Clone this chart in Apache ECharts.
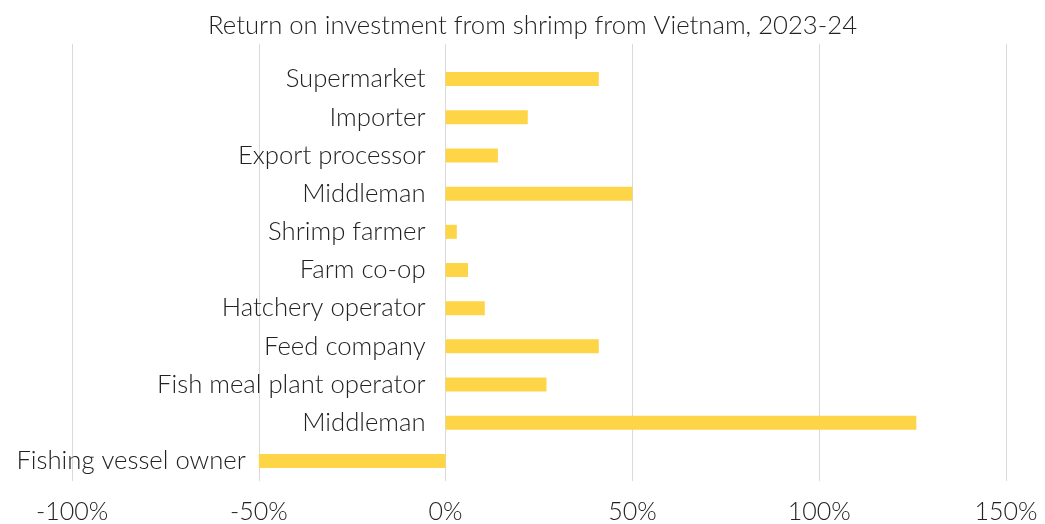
<!DOCTYPE html>
<html>
<head>
<meta charset="utf-8">
<script src="https://cdn.jsdelivr.net/npm/echarts@6/dist/echarts.min.js"></script>
<style>
html,body{margin:0;padding:0;background:#fff;}
#main{width:1045px;height:524px;}
</style>
</head>
<body>
<div id="main"></div>
<script>
var titleText = 'Return on investment from shrimp from Vietnam, 2023-24';
var categories = ['Supermarket','Importer','Export processor','Middleman','Shrimp farmer','Farm co-op','Hatchery operator','Feed company','Fish meal plant operator','Middleman','Fishing vessel owner'];
var roiValues = [41, 22, 14, 50, 3, 6, 10.5, 41, 27, 126, -50];
var xTicks = [-100, -50, 0, 50, 100, 150];

var FONT = 'Lato';
var FW = 300;
var GRID_LEFT = 72;
var LABEL_MARGIN = 20;
var chart = echarts.init(document.getElementById('main'));
var catIdx = categories.map(function(c, i){ return String(i); });
var negPad = 0;
var option = {
  animation: false,
  backgroundColor: '#ffffff',
  title: {
    text: titleText,
    left: 208,
    top: 13,
    padding: 0,
    textStyle: {fontFamily: FONT, fontSize: 25.7, fontWeight: FW, color: '#222'}
  },
  grid: [
    {left: GRID_LEFT, right: 39, top: 60, bottom: 44, outerBoundsMode: 'none', containLabel: false},
    {left: GRID_LEFT, right: 39, top: 44, bottom: 43, outerBoundsMode: 'none', containLabel: false}
  ],
  xAxis: [
    {gridIndex: 0, type: 'value', min: xTicks[0], max: xTicks[xTicks.length-1], interval: 50,
     axisLabel: {show: false}, splitLine: {show: false}, axisLine: {show: false}, axisTick: {show: false}},
    {gridIndex: 1, type: 'value', min: xTicks[0], max: xTicks[xTicks.length-1], interval: 50,
     axisLabel: {show: true, formatter: '{value}%', fontFamily: FONT, fontWeight: FW, fontSize: 25, color: '#222', margin: 18},
     splitLine: {show: true, lineStyle: {color: '#d9d9d9', width: 1}},
     axisLine: {show: false}, axisTick: {show: false}}
  ],
  yAxis: [
    {gridIndex: 0, type: 'category', data: catIdx, inverse: true, offset: 0,
     axisLine: {show: false, onZero: false}, axisTick: {show: false},
     axisLabel: {fontFamily: FONT, fontWeight: FW, fontSize: 25.7, color: '#222', margin: LABEL_MARGIN,
       formatter: function(v){
         var i = +v;
         return roiValues[i] < 0 ? '{neg|' + categories[i] + '}' : categories[i];
       },
       rich: {neg: {fontFamily: FONT, fontWeight: FW, fontSize: 25.7, color: '#222', padding: [0, 0, 0, 0]}}
     }},
    {gridIndex: 1, type: 'value', min: 0, max: 1, show: false}
  ],
  series: [{
    type: 'bar',
    xAxisIndex: 0, yAxisIndex: 0,
    data: roiValues,
    barWidth: 14,
    itemStyle: {color: '#FDD547'}
  }]
};
chart.setOption(option);
// place the category axis at the x = 0 position of the value axis
var zeroPx = chart.convertToPixel({xAxisIndex: 0}, 0);
// negative bars: move their label to the left of the bar end
var minNeg = Math.min.apply(null, roiValues.concat([0]));
var negEndPx = chart.convertToPixel({xAxisIndex: 0}, minNeg);
negPad = Math.max(0, zeroPx - negEndPx + 13 - LABEL_MARGIN);
chart.setOption({yAxis: [{offset: GRID_LEFT - zeroPx,
  axisLabel: {rich: {neg: {fontFamily: FONT, fontWeight: FW, fontSize: 25.7, color: '#222', padding: [0, negPad, 0, 0]}}}}, {}]});
</script>
</body>
</html>
